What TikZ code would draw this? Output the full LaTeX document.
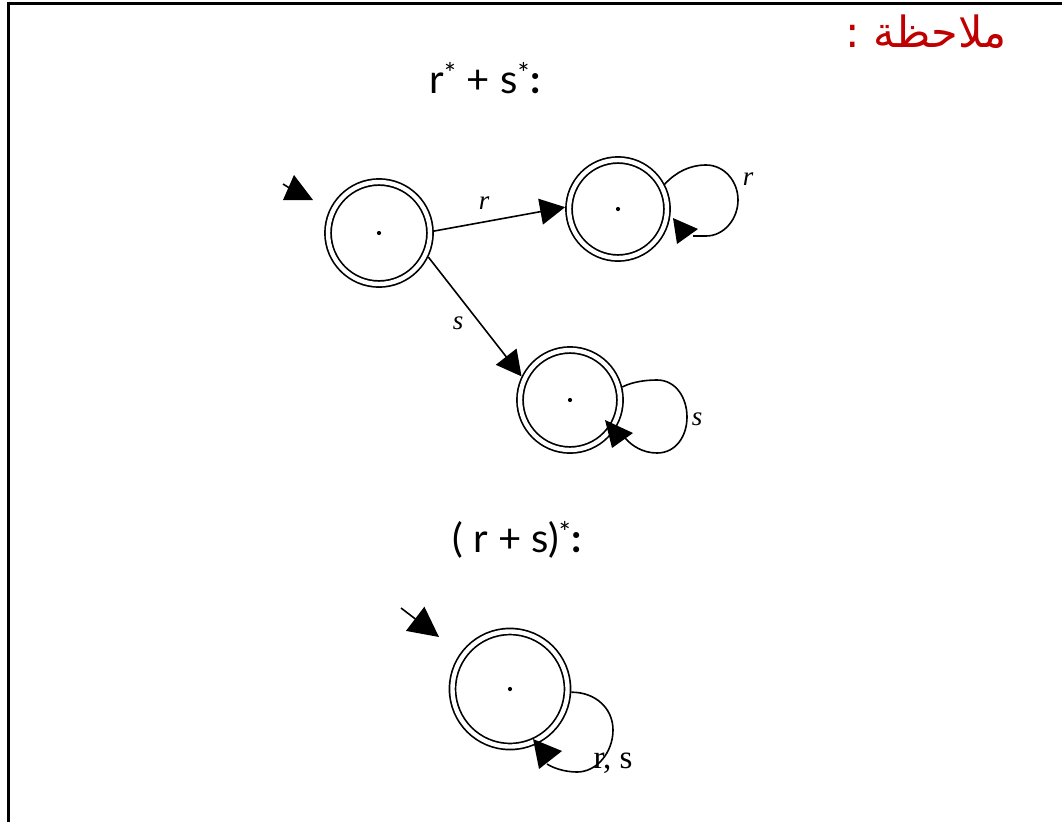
\documentclass[tikz,border=0pt]{standalone}
\usepackage{fontspec}
\setmainfont{Liberation Serif}
\newfontfamily\titlefont{Lato}
\newfontfamily\arabicfont[Script=Arabic]{DejaVu Sans}
\TeXXeTstate=1
\usetikzlibrary{arrows.meta}
\definecolor{notered}{RGB}{192,0,0}
\begin{document}
\begin{tikzpicture}[x=1pt,y=-1pt,
  state/.style={circle, draw, line width=1.7pt, double, double distance=4.4pt,
    inner sep=0pt, outer sep=3.9pt,
    path picture={\fill (path picture bounding box.center) circle (2.1pt);}},
  edge/.style={line width=1.6pt, -{Triangle[length=25pt,width=26pt]}},
  loopline/.style={line width=1.6pt},
  tip/.style={fill=black},
  lab/.style={font=\fontsize{27}{27}\selectfont\itshape, inner sep=0pt},
  ulab/.style={font=\fontsize{33}{33}\selectfont, inner sep=0pt},
  title/.style={font=\fontsize{40}{40}\selectfont\titlefont, inner sep=0pt, anchor=base},
  frame/.style={line width=3pt, line join=miter}
]
\useasboundingbox (0,0) rectangle (1062,822);
\draw[frame] (8,822) -- (8,3) -- (1062,3);

\node[font=\fontsize{43}{43}\selectfont\arabicfont, text=notered, anchor=base, inner sep=0pt] (note) at (926,47) {\beginR ملاحظة :\endR};

\node[title] (t1) at (485,93) {r\textsuperscript{*} + s\textsuperscript{*}\textbf{:}};
\node[title] (t2) at (517,552) {( r + s)\textsuperscript{*}\textbf{:}};

\node[state, minimum size=102pt] (A) at (379,233) {};
\node[state, minimum size=98pt] (B) at (618,209) {};
\node[state, minimum size=100pt] (C) at (570,400) {};
\node[state, minimum size=115pt] (D) at (510,689) {};

% start arrow of A
\coordinate (sA) at (283,184);
\draw[line width=1.6pt] (sA) -- (291,189);
\fill[tip] (294,175) -- (283,200) -- (313,200) -- cycle;

% start arrow of D
\coordinate (sD) at (401,608);
\draw[line width=1.6pt, -{Triangle[length=30pt,width=30pt]}] (sD) -- (439,637);

\draw[edge] (A.2) -- (B.178) node[lab] (lr) at (484,203) {r};
\draw[edge] (A.-26) -- (C.154) node[lab] (ls) at (458,323) {s};

% loop B
\draw[loopline] (B.28) .. controls (676,172) and (690,165) .. (706,165)
  .. controls (724,165) and (738,181) .. (738,200)
  .. controls (738,219) and (724,236) .. (706,236) -- (693,236);
\fill[tip] (673,218) -- (677,244) -- (698,229) -- cycle;
\node[lab] (lb) at (748,179) {r};

% loop C
\draw[loopline] (C.14) .. controls (632,382) and (645,380) .. (657,380)
  .. controls (676,380) and (687,398) .. (687,417)
  .. controls (687,436) and (676,453) .. (657,453)
  .. controls (643,453) and (632,446) .. (625,438);
\fill[tip] (605,420) -- (612,448) -- (633,433) -- cycle;
\node[lab] (lc) at (697,419) {s};

% loop D
\draw[loopline] (D.-3) .. controls (595,692) and (613,708) .. (613,730)
  .. controls (613,752) and (597,772) .. (577,772)
  .. controls (565,772) and (553,768) .. (547,764);
\fill[tip] (533,739) -- (539,769) -- (562,751) -- cycle;
\node[ulab] (ld) at (613,763) {r, s};
\end{tikzpicture}
\end{document}
